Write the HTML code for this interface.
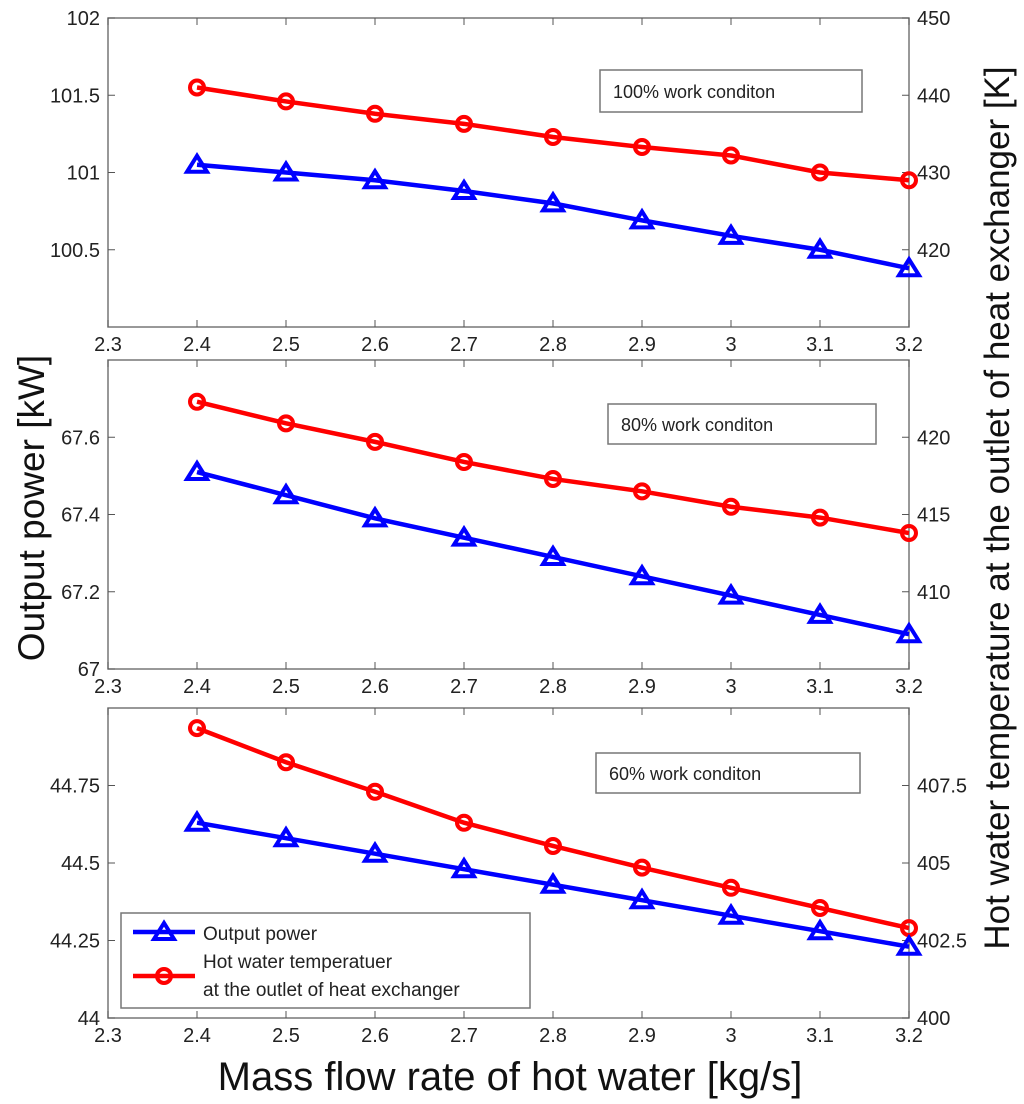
<!DOCTYPE html>
<html><head><meta charset="utf-8"><style>
html,body{margin:0;padding:0;background:#fff;}
svg{display:block;font-family:"Liberation Sans",Arial,sans-serif;}
</style></head><body>
<svg id="chart" width="1024" height="1104" viewBox="0 0 1024 1104"></svg>
<script>
const categories=[2.4,2.5,2.6,2.7,2.8,2.9,3.0,3.1,3.2];
const xTicks=[2.3,2.4,2.5,2.6,2.7,2.8,2.9,3.0,3.1,3.2];
const xTickLabels=["2.3","2.4","2.5","2.6","2.7","2.8","2.9","3","3.1","3.2"];
const power100=[101.05,101.0,100.95,100.88,100.80,100.69,100.59,100.50,100.38];
const temp100=[441.0,439.2,437.6,436.3,434.6,433.3,432.2,430.0,429.0];
const power80=[67.51,67.45,67.39,67.34,67.29,67.24,67.19,67.14,67.09];
const temp80=[422.3,420.9,419.7,418.4,417.3,416.5,415.5,414.8,413.8];
const power60=[44.63,44.58,44.53,44.48,44.43,44.38,44.33,44.28,44.23];
const temp60=[409.35,408.25,407.3,406.3,405.55,404.85,404.2,403.55,402.9];
const leftTicks100=[100.5,101,101.5,102],leftLabels100=["100.5","101","101.5","102"];
const rightTicks100=[420,430,440,450],rightLabels100=["420","430","440","450"];
const leftTicks80=[67,67.2,67.4,67.6],leftLabels80=["67","67.2","67.4","67.6"];
const rightTicks80=[410,415,420],rightLabels80=["410","415","420"];
const leftTicks60=[44,44.25,44.5,44.75],leftLabels60=["44","44.25","44.5","44.75"];
const rightTicks60=[400,402.5,405,407.5],rightLabels60=["400","402.5","405","407.5"];

const svg=document.getElementById('chart');
const NS='http://www.w3.org/2000/svg';
function mk(tag,attrs,parent){const e=document.createElementNS(NS,tag);for(const k in attrs)e.setAttribute(k,attrs[k]);(parent||svg).appendChild(e);return e;}
const X0=108,X1=909;
function xs(v){return X0+(v-2.3)/(3.2-2.3)*(X1-X0);}

const panels=[
 {name:'panel-100',top:18,bot:327,lmin:100,lmax:102,rmin:410,rmax:450,p:power100,t:temp100,lt:leftTicks100,ll:leftLabels100,rt:rightTicks100,rl:rightLabels100,label:'100% work conditon',box:[600,70,262,42]},
 {name:'panel-80',top:360,bot:669,lmin:67,lmax:67.8,rmin:405,rmax:425,p:power80,t:temp80,lt:leftTicks80,ll:leftLabels80,rt:rightTicks80,rl:rightLabels80,label:'80% work conditon',box:[608,404,268,40]},
 {name:'panel-60',top:708,bot:1018,lmin:44,lmax:45,rmin:400,rmax:410,p:power60,t:temp60,lt:leftTicks60,ll:leftLabels60,rt:rightTicks60,rl:rightLabels60,label:'60% work conditon',box:[596,753,264,40]}
];

function tri(g,x,y,color){mk('polygon',{points:`${x},${y-9} ${x-10},${y+7} ${x+10},${y+7}`,fill:'none',stroke:color,'stroke-width':4,'stroke-linejoin':'miter'},g);}
function circ(g,x,y,color){mk('circle',{cx:x,cy:y,r:7,fill:'none',stroke:color,'stroke-width':4},g);}

panels.forEach(P=>{
 const g=mk('g',{});
 
 
 const yl=v=>P.bot-(v-P.lmin)/(P.lmax-P.lmin)*(P.bot-P.top);
 const yr=v=>P.bot-(v-P.rmin)/(P.rmax-P.rmin)*(P.bot-P.top);
 const frame=mk('rect',{x:X0,y:P.top,width:X1-X0,height:P.bot-P.top,fill:'#fff',stroke:'#777','stroke-width':1.5},g);
 
 
 xTicks.forEach((v,i)=>{
  const x=xs(v);
  mk('line',{x1:x,y1:P.bot,x2:x,y2:P.bot-7,stroke:'#555'},g);
  mk('line',{x1:x,y1:P.top,x2:x,y2:P.top+7,stroke:'#555'},g);
  const t=mk('text',{x:x,y:P.bot+24,'font-size':20,'text-anchor':'middle',fill:'#222'},g);
  t.textContent=xTickLabels[i];
  
  
 });
 P.lt.forEach((v,i)=>{
  const y=yl(v);
  mk('line',{x1:X0,y1:y,x2:X0+7,y2:y,stroke:'#555'},g);
  const t=mk('text',{x:X0-8,y:y+7,'font-size':20,'text-anchor':'end',fill:'#222'},g);
  t.textContent=P.ll[i];
  
  
 });
 P.rt.forEach((v,i)=>{
  const y=yr(v);
  mk('line',{x1:X1,y1:y,x2:X1-7,y2:y,stroke:'#555'},g);
  const t=mk('text',{x:X1+8,y:y+7,'font-size':20,'text-anchor':'start',fill:'#222'},g);
  t.textContent=P.rl[i];
  
  
 });
 const rp=mk('polyline',{points:categories.map((c,i)=>xs(c)+','+yr(P.t[i])).join(' '),fill:'none',stroke:'#ff0000','stroke-width':4.5},g);
 
 
 categories.forEach((c,i)=>circ(g,xs(c),yr(P.t[i]),'#ff0000'));
 const bp=mk('polyline',{points:categories.map((c,i)=>xs(c)+','+yl(P.p[i])).join(' '),fill:'none',stroke:'#0000ff','stroke-width':4.5},g);
 
 
 categories.forEach((c,i)=>tri(g,xs(c),yl(P.p[i]),'#0000ff'));
 const b=P.box;
 const br=mk('rect',{x:b[0],y:b[1],width:b[2],height:b[3],fill:'#fff',stroke:'#777','stroke-width':1.5},g);
 
 
 const bt=mk('text',{x:b[0]+13,y:b[1]+b[3]/2+7,'font-size':18,fill:'#222'},g);
 bt.textContent=P.label;
 
 
});

const lg=mk('g',{});


mk('rect',{x:121,y:913,width:409,height:95,fill:'#fff',stroke:'#777','stroke-width':1.5},lg);
mk('line',{x1:133,y1:932,x2:195,y2:932,stroke:'#0000ff','stroke-width':4.5},lg);
tri(lg,164,932,'#0000ff');
mk('line',{x1:133,y1:976,x2:195,y2:976,stroke:'#ff0000','stroke-width':4.5},lg);
circ(lg,164,976,'#ff0000');
const l1=mk('text',{x:203,y:940,'font-size':19,fill:'#222'},lg);l1.textContent='Output power';


const l2=mk('text',{x:203,y:968,'font-size':19,fill:'#222'},lg);l2.textContent='Hot water temperatuer';


const l3=mk('text',{x:203,y:996,'font-size':19,fill:'#222'},lg);l3.textContent='at the outlet of heat exchanger';



const yt=mk('text',{x:0,y:0,'font-size':37,'text-anchor':'middle',fill:'#111',transform:'translate(44,508) rotate(-90)'});
yt.textContent='Output power [kW]';


const yt2=mk('text',{x:0,y:0,'font-size':35,'text-anchor':'middle',fill:'#111',transform:'translate(1009,508) rotate(-90)'});
yt2.textContent='Hot water temperature at the outlet of heat exchanger [K]';


const xt=mk('text',{x:510,y:1090,'font-size':40,'text-anchor':'middle',fill:'#111'});
xt.textContent='Mass flow rate of hot water [kg/s]';


</script>
</body></html>
